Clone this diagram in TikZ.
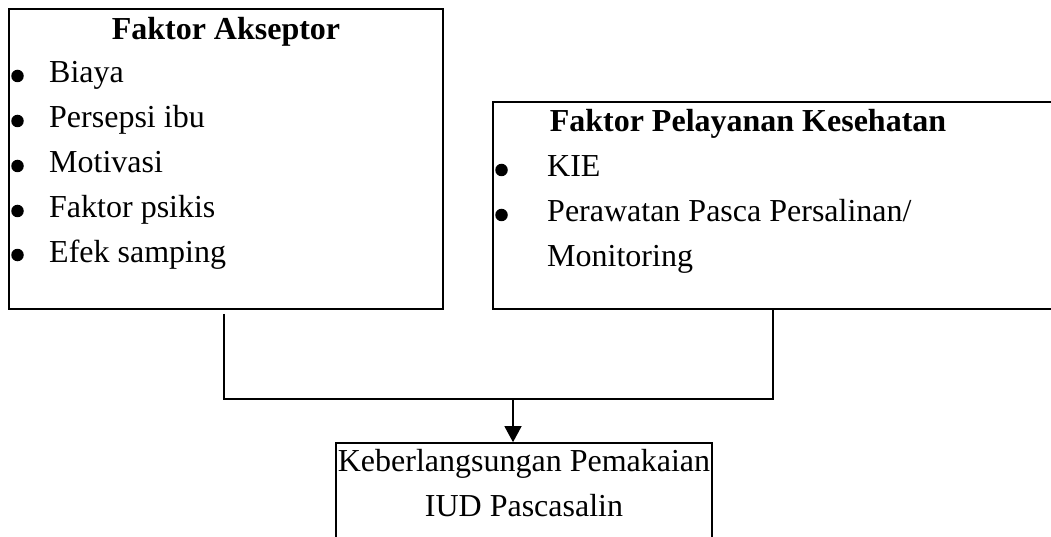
\documentclass[tikz,border=0pt]{standalone}
\usepackage{fontspec}
\setmainfont{Liberation Serif}
\usetikzlibrary{arrows.meta}
\begin{document}
\begin{tikzpicture}[x=1pt,y=-1pt,
  box/.style={draw, line width=1.6pt, inner sep=0pt},
  conn/.style={draw, line width=1.3pt},
  txt/.style={inner sep=0pt, anchor=base west, font=\fontsize{32}{45}\selectfont},
  ttl/.style={inner sep=0pt, anchor=base, font=\fontsize{32}{45}\selectfont\bfseries},
  ctr/.style={inner sep=0pt, anchor=base, font=\fontsize{32}{45}\selectfont},
  bul/.style={circle, fill, inner sep=0pt, minimum size=12.5pt}]
\useasboundingbox (0,0) rectangle (1051,537);
\clip (0,0) rectangle (1051,537);
% boxes
\node[box, minimum width=434pt, minimum height=300pt] (A) at (226,159) {};
\node[box, minimum width=580pt, minimum height=207pt] (B) at (783,205.5) {};
\node[box, minimum width=376pt, minimum height=130pt] (C) at (524,508) {};
% left box text
\node[ttl] (a0) at (226,40) {Faktor Akseptor};
\node[bul] (ab1) at (17.5,76) {};
\node[txt] (a1) at (49,83) {Biaya};
\node[bul] (ab2) at (17.5,121) {};
\node[txt] (a2) at (49,128) {Persepsi ibu};
\node[bul] (ab3) at (17.5,166) {};
\node[txt] (a3) at (49,173) {Motivasi};
\node[bul] (ab4) at (17.5,211) {};
\node[txt] (a4) at (49,218) {Faktor psikis};
\node[bul] (ab5) at (17.5,255) {};
\node[txt] (a5) at (49,262) {Efek samping};
% right box text
\node[ttl] (b0) at (748,132) {Faktor Pelayanan Kesehatan};
\node[bul] (bb1) at (501.5,170) {};
\node[txt] (b1) at (547,177) {KIE};
\node[bul] (bb2) at (501.5,215) {};
\node[txt] (b2) at (547,222) {Perawatan Pasca Persalinan/};
\node[txt] (b3) at (547,266) {Monitoring};
% bottom box text
\node[ctr] (c1) at (524,471) {Keberlangsungan Pemakaian};
\node[ctr] (c2) at (524,516) {IUD Pascasalin};
% connectors
\coordinate (j1) at (224,399);
\coordinate (j2) at (774,399);
\coordinate (m) at (513,399);
\draw[conn] ([yshift=-4pt]A.south -| j1) -- (j1) -- (j2);
\draw[conn] (B.south -| 773,0) -- (773,399);
\draw[conn, -{Triangle[length=16pt,width=17pt]}] (m) -- (C.north -| m);
\end{tikzpicture}
\end{document}
